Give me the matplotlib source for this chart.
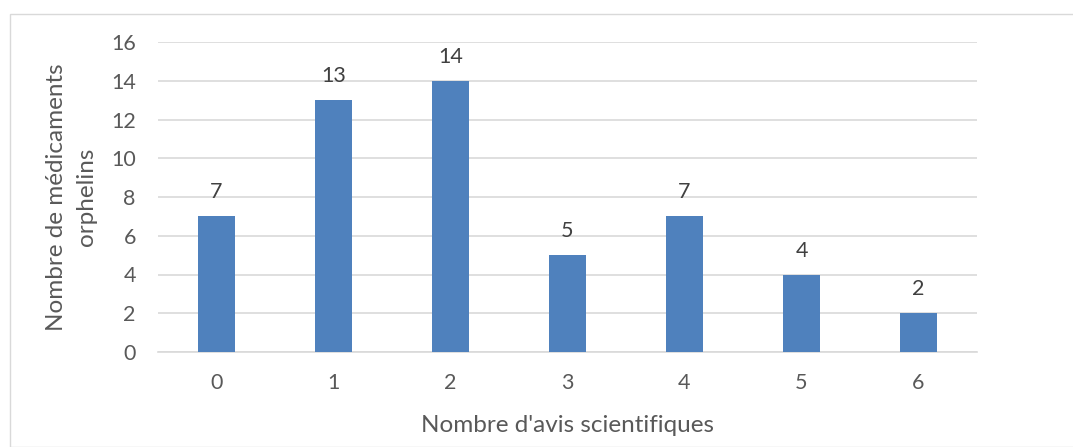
import matplotlib
matplotlib.use("Agg")
import matplotlib.pyplot as plt
from matplotlib.patches import Rectangle

categories = ["0", "1", "2", "3", "4", "5", "6"]
values = [7, 13, 14, 5, 7, 4, 2]
yticks = [0, 2, 4, 6, 8, 10, 12, 14, 16]

plt.rcParams['font.family'] = ['Lato', 'DejaVu Sans']
txt = '#595959'
W, H = 1073, 447
fig = plt.figure(figsize=(W/100, H/100), dpi=100)
fig.patches.append(Rectangle((10/W, 0), 1.2, 1 - 14/H, transform=fig.transFigure,
                             fill=False, edgecolor='#D9D9D9', linewidth=1))
ax = fig.add_axes([158/W, 1 - 352/H, (977-158)/W, (352-42)/H])
x = list(range(len(categories)))
bars = ax.bar(x, values, width=0.316, color='#4F81BD', zorder=3)
for xi, v in zip(x, values):
    ax.annotate(str(v), (xi, v), xytext=(0, 10), textcoords='offset points',
                ha='center', va='bottom', fontsize=15.5, color='#404040')
ax.set_xlim(-0.5, len(categories) - 0.5)
ax.set_ylim(0, 16)
ax.set_yticks(yticks)
ax.set_xticks(x)
ax.set_xticklabels(categories)
ax.yaxis.grid(True, color='#D9D9D9', linewidth=1.2, zorder=0)
for s in ['top', 'right', 'left']:
    ax.spines[s].set_visible(False)
ax.spines['bottom'].set_color('#D9D9D9')
ax.spines['bottom'].set_linewidth(1.2)
ax.tick_params(axis='both', length=0, labelsize=15.5, colors=txt)
ax.tick_params(axis='y', pad=16)
ax.tick_params(axis='x', pad=15)
ax.set_xlabel("Nombre d'avis scientifiques", fontsize=17.5, color=txt, labelpad=16)
ax.set_ylabel("Nombre de médicaments\norphelins", fontsize=17.5, color=txt,
              labelpad=10, linespacing=1.55)
fig.savefig("out.png", dpi=100)
